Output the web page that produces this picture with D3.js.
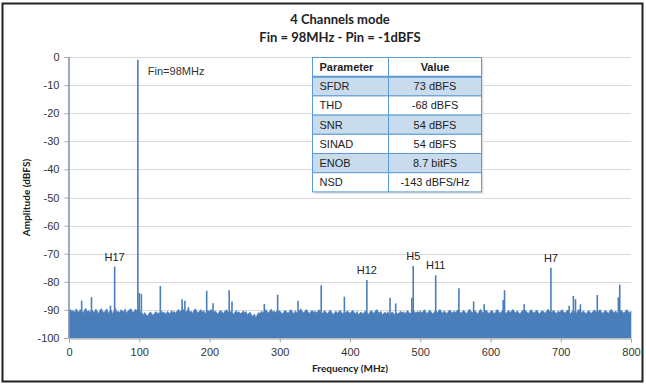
<!DOCTYPE html>
<html>
<head>
<meta charset="utf-8">
<script src="https://cdn.jsdelivr.net/npm/d3@7"></script>
<style>
	body { margin: 0; background: #fff; }
	svg { display: block; }
</style>
</head>
<body>
<svg id="chart" width="646" height="385"></svg>
<script>
// noise floor, one bin every 2 MHz from 0 to 800 MHz (dBFS)
var binStep = 2;
var noiseLevels = [
	-90.2,-89.8,-90.6,-90.1,-91.0,-89.6,-90.3,-90.8,-89.9,-90.4,-91.2,-90.0,-89.4,-90.7,-90.2,-91.1,-89.8,-90.5,-90.9,-89.7,-90.3,-91.4,-90.1,-89.5,-90.6,
	-90.9,-90.2,-89.6,-91.3,-90.4,-90.0,-91.5,-90.2,-89.3,-90.8,-90.5,-91.0,-89.9,-90.4,-90.7,-89.6,-91.2,-90.3,-90.0,-89.5,-90.6,-90.9,-89.8,-90.2,-89.4,
	-90.1,-90.8,-91.3,-91.6,-90.9,-91.8,-92.1,-91.2,-90.7,-91.5,-91.9,-91.0,-90.6,-91.4,-90.9,-91.7,-90.4,-91.1,-90.8,-91.6,-90.5,-91.0,-91.3,-90.2,-90.9,
	-90.6,-91.2,-90.3,-89.8,-90.7,-90.1,-89.5,-90.4,-91.0,-90.2,-89.7,-90.9,-90.4,-91.3,-90.0,-89.6,-90.5,-91.1,-90.3,-89.9,-90.8,-90.2,-91.4,-90.6,-90.1,
	-90.7,-89.8,-90.4,-91.0,-90.3,-90.9,-91.5,-90.6,-90.1,-90.8,-91.2,-90.4,-89.9,-90.7,-91.3,-90.5,-90.9,-91.6,-90.8,-90.2,-91.0,-90.6,-91.4,-90.9,-90.3,
	-91.1,-90.5,-91.7,-91.2,-90.8,-91.9,-92.3,-91.4,-92.8,-91.6,-90.9,-91.3,-90.4,-91.0,-90.6,-89.9,-90.5,-91.2,-90.3,-89.7,-90.8,-90.4,-91.1,-90.2,-90.6,
	-90.3,-90.9,-91.4,-90.6,-90.1,-90.8,-91.2,-90.4,-89.9,-90.7,-91.5,-90.3,-90.9,-91.1,-90.2,-89.6,-90.5,-91.0,-90.4,-89.8,-90.6,-91.3,-90.7,-90.1,-90.8,
	-90.4,-91.0,-90.5,-89.9,-90.7,-91.4,-90.8,-90.2,-90.9,-91.3,-90.6,-90.0,-90.8,-91.6,-91.0,-90.4,-91.2,-90.7,-90.1,-90.9,-91.5,-90.6,-91.1,-90.3,-90.8,
	-91.2,-90.6,-90.1,-90.9,-91.4,-90.5,-91.8,-91.1,-90.7,-91.5,-90.9,-90.3,-91.0,-91.6,-90.8,-90.2,-90.7,-91.3,-90.4,-89.9,-90.6,-91.1,-90.5,-91.7,-91.2,
	-90.8,-91.4,-90.6,-91.9,-91.3,-90.7,-91.2,-91.8,-90.9,-91.5,-91.0,-90.4,-91.1,-90.6,-91.3,-90.8,-90.2,-90.9,-91.4,-90.5,-90.0,-90.7,-91.2,-90.5,-90.9,
	-90.3,-91.0,-90.6,-89.9,-90.8,-91.3,-90.5,-90.1,-90.9,-91.5,-90.7,-90.2,-91.1,-90.4,-89.8,-90.6,-91.2,-90.3,-90.8,-91.4,-90.5,-90.0,-90.7,-91.1,-90.4,
	-90.9,-90.3,-89.9,-90.6,-91.2,-90.7,-90.1,-90.8,-91.3,-90.5,-89.7,-90.4,-91.0,-90.6,-90.2,-90.9,-91.5,-90.4,-89.8,-90.7,-91.1,-90.5,-90.0,-90.8,-91.3,
	-90.6,-90.1,-90.9,-91.4,-90.3,-89.9,-90.7,-91.2,-90.5,-90.0,-90.8,-91.3,-90.6,-90.2,-91.0,-90.4,-89.8,-90.6,-91.1,-90.3,-90.9,-91.4,-90.7,-90.1,-90.5,
	-90.2,-90.8,-91.3,-90.4,-89.9,-90.7,-91.1,-90.5,-90.0,-90.9,-91.4,-90.6,-90.2,-90.8,-91.2,-90.3,-89.7,-90.5,-91.0,-90.6,-90.1,-90.9,-91.3,-90.4,-90.8,
	-90.4,-89.9,-90.7,-91.2,-90.5,-90.0,-90.8,-91.4,-90.6,-90.1,-90.9,-91.3,-90.4,-89.8,-90.6,-91.1,-90.3,-90.8,-91.5,-90.7,-90.2,-90.9,-91.2,-90.5,-90.0,
	-90.6,-91.1,-90.4,-89.9,-90.7,-91.3,-90.5,-90.1,-90.8,-91.2,-90.3,-89.8,-90.6,-91.0,-90.4,-90.9,-91.4,-90.6,-90.1,-90.7,-91.2,-90.5,-89.9,-90.6,-91.0,
	-90.5
];

// tones and spurs sticking out of the floor
var spurFreqs  = [0, 18, 32, 59, 65, 98, 100, 103, 130, 161, 165, 170, 196, 205, 228, 232, 278, 297, 326, 359, 392, 424, 457, 465, 488, 490, 522, 555, 576, 591, 618, 620, 648, 686, 712, 718, 721, 728, 752, 782, 784];
var spurLevels = [0, -86.7, -85.5, -88.5, -74.6, -1, -84, -84.3, -81.5, -86.2, -86.7, -89, -83.2, -87.6, -83, -87, -87.9, -84.6, -86.7, -81.2, -85.3, -79.4, -85.7, -87.7, -85.7, -74.4, -77.7, -82.3, -87, -88, -86.5, -83, -88, -75, -88.5, -85, -86.2, -88, -84.7, -85.5, -81];

var harmonicNames = ['H17', 'H12', 'H5', 'H11', 'H7'];
var harmonicFreqs = [65, 424, 490, 522, 686];

var xTicks = [0, 100, 200, 300, 400, 500, 600, 700, 800];
var yTicks = [0, -10, -20, -30, -40, -50, -60, -70, -80, -90, -100];

var paramNames  = ['SFDR', 'THD', 'SNR', 'SINAD', 'ENOB', 'NSD'];
var paramValues = ['73 dBFS', '-68 dBFS', '54 dBFS', '54 dBFS', '8.7 bitFS', '-143 dBFS/Hz'];

drawSpectrum();

function drawSpectrum() {
	var blue = '#4a7ebb';
	var grid = '#d9d9d9';
	var svg = d3.select('#chart');
	var left = 69, right = 631, top = 57, bottom = 338;

	var xScale = d3.scaleLinear().domain([0, 800]).range([left, right]);
	var yScale = d3.scaleLinear().domain([-100, 0]).range([bottom, top]);

	// frame round the whole picture
	svg.append('rect')
		.attr('x', 2.5).attr('y', 3.5)
		.attr('width', 640).attr('height', 378)
		.attr('fill', '#fff')
		.attr('stroke', '#222')
		.attr('stroke-width', 2);

	// titles
	svg.append('text').attr('x', 340).attr('y', 24)
		.attr('text-anchor', 'middle')
		.style('font', 'bold 13px Lato, "Open Sans", sans-serif')
		.style('fill', '#222')
		.text('4 Channels mode');
	svg.append('text').attr('x', 340).attr('y', 42)
		.attr('text-anchor', 'middle')
		.style('font', 'bold 13px Lato, "Open Sans", sans-serif')
		.style('fill', '#222')
		.text('Fin = 98MHz - Pin = -1dBFS');

	// gridlines
	svg.append('g').attr('id', 'grid')
		.selectAll('line')
		.data(yTicks.filter(function (t) { return t > -100; }))
		.enter().append('line')
		.attr('x1', left).attr('x2', right)
		.attr('y1', function (d) { return Math.round(yScale(d)) + 0.5; })
		.attr('y2', function (d) { return Math.round(yScale(d)) + 0.5; })
		.attr('stroke', grid);

	// noise floor as area
	var floorData = noiseLevels.map(function (v, i) {
		return {freq: i * binStep, level: v};
	});
	var area = d3.area()
		.x(function (d) { return xScale(d.freq); })
		.y0(yScale(-100))
		.y1(function (d) { return yScale(d.level); });
	svg.append('path')
		.datum(floorData)
		.attr('d', area)
		.attr('fill', blue)
		.attr('stroke', blue)
		.attr('stroke-width', 0.6);

	// spurs as thin bars
	var spurs = spurFreqs.map(function (f, i) {
		return {freq: f, level: spurLevels[i]};
	});
	svg.append('g').attr('id', 'spurs')
		.selectAll('line')
		.data(spurs)
		.enter().append('line')
		.attr('x1', function (d) { return xScale(d.freq); })
		.attr('x2', function (d) { return xScale(d.freq); })
		.attr('y1', yScale(-100))
		.attr('y2', function (d) { return yScale(d.level); })
		.attr('stroke', blue)
		.attr('stroke-width', function (d) { return d.freq === 0 ? 1.2 : 1.6; });

	// axes (plain hyphen minus like the original)
	var plain = function (d) { return String(d); };
	var xAxis = d3.axisBottom(xScale).tickValues(xTicks).tickFormat(plain).tickSize(4).tickPadding(6);
	var gx = svg.append('g').attr('id', 'x-axis')
		.attr('transform', 'translate(0,' + (bottom + 0.5) + ')')
		.call(xAxis);
	var yAxis = d3.axisLeft(yScale).tickValues(yTicks).tickFormat(plain).tickSize(4).tickPadding(5);
	var gy = svg.append('g').attr('id', 'y-axis')
		.attr('transform', 'translate(' + (left - 0.5) + ',0)')
		.call(yAxis);
	[gx, gy].forEach(function (g) {
		g.selectAll('path, line').attr('stroke', '#a6a6a6');
		g.selectAll('text')
			.style('font', '11px "Liberation Sans", Arial, sans-serif')
			.style('fill', '#333');
	});

	svg.append('text').attr('x', 350).attr('y', 372)
		.attr('text-anchor', 'middle')
		.style('font', 'bold 10px Lato, "Open Sans", sans-serif')
		.style('fill', '#222')
		.text('Frequency (MHz)');
	svg.append('text')
		.attr('transform', 'translate(30,' + ((top + bottom) / 2) + ') rotate(-90)')
		.attr('text-anchor', 'middle')
		.style('font', 'bold 10px Lato, "Open Sans", sans-serif')
		.style('fill', '#222')
		.text('Amplitude (dBFS)');

	// annotations
	svg.append('text')
		.attr('x', xScale(98) + 10).attr('y', yScale(-1) + 15)
		.style('font', '11px "Liberation Sans", Arial, sans-serif')
		.style('fill', '#333')
		.text('Fin=98MHz');
	svg.append('g').attr('id', 'harmonics')
		.selectAll('text')
		.data(harmonicNames)
		.enter().append('text')
		.attr('x', function (d, i) { return xScale(harmonicFreqs[i]); })
		.attr('y', function (d, i) {
			return yScale(spurLevels[spurFreqs.indexOf(harmonicFreqs[i])]) - 6;
		})
		.attr('text-anchor', 'middle')
		.style('font', '11px "Liberation Sans", Arial, sans-serif')
		.style('fill', '#222')
		.text(function (d) { return d; });

	drawParamTable(svg);
}

function drawParamTable(svg) {
	var tx = 312.5, ty = 57.5, colW = [76, 93], rowH = 19.2;
	var lineBlue = '#5b9bd5';
	var shade = '#c9dcee';
	var rows = [{name: 'Parameter', value: 'Value', head: true}];
	paramNames.forEach(function (n, i) {
		rows.push({name: n, value: paramValues[i], head: false});
	});
	var totalW = colW[0] + colW[1];
	var table = svg.append('g').attr('id', 'param-table');

	table.append('rect')
		.attr('x', tx + 2).attr('y', ty + 2)
		.attr('width', totalW).attr('height', rowH * rows.length)
		.attr('fill', '#e3e3e3');

	var row = table.selectAll('g.row')
		.data(rows)
		.enter().append('g')
		.attr('class', 'row')
		.attr('transform', function (d, i) { return 'translate(' + tx + ',' + (ty + i * rowH) + ')'; });
	row.append('rect')
		.attr('width', totalW).attr('height', rowH)
		.attr('fill', function (d, i) { return (i % 2 === 1) ? shade : '#fff'; })
		.attr('stroke', lineBlue)
		.attr('stroke-width', 1);
	row.append('line')
		.attr('x1', colW[0]).attr('x2', colW[0])
		.attr('y1', 0).attr('y2', rowH)
		.attr('stroke', lineBlue);
	row.append('text')
		.attr('x', 7).attr('y', rowH / 2 + 4)
		.style('font', function (d) { return (d.head ? 'bold ' : '') + '11px "Liberation Sans", Arial, sans-serif'; })
		.style('fill', '#222')
		.text(function (d) { return d.name; });
	row.append('text')
		.attr('x', colW[0] + colW[1] / 2).attr('y', rowH / 2 + 4)
		.attr('text-anchor', 'middle')
		.style('font', function (d) { return (d.head ? 'bold ' : '') + '11px "Liberation Sans", Arial, sans-serif'; })
		.style('fill', '#222')
		.text(function (d) { return d.value; });

	// heavier rule under the header
	table.append('line')
		.attr('x1', tx).attr('x2', tx + totalW)
		.attr('y1', ty + rowH).attr('y2', ty + rowH)
		.attr('stroke', lineBlue)
		.attr('stroke-width', 2);
}
</script>
</body>
</html>
